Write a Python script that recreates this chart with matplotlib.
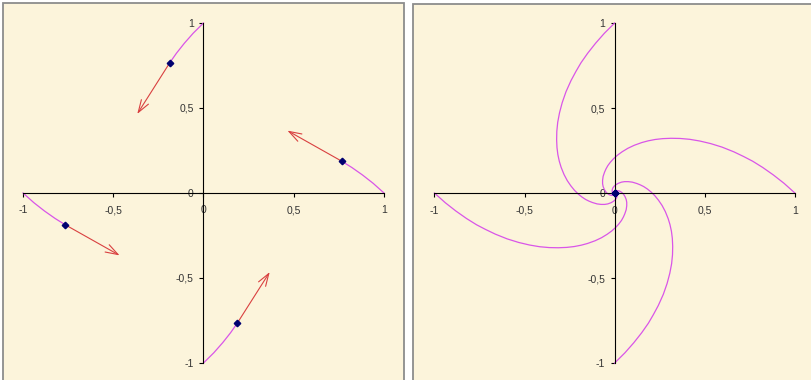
import matplotlib
matplotlib.use('Agg')
import matplotlib.pyplot as plt
from matplotlib.patches import Rectangle

plt.rcParams['font.family'] = ['Liberation Sans', 'DejaVu Sans']

# four chasers, each path
x_a = [1.0, 0.940, 0.881, 0.822, 0.766, 0.717, 0.662, 0.596, 0.532, 0.472, 0.416, 0.363,
       0.313, 0.267, 0.225, 0.186, 0.151, 0.109, 0.073, 0.042, 0.016, -0.006, -0.024, -0.038,
       -0.048, -0.056, -0.064, -0.067, -0.067, -0.064, -0.057, -0.049, -0.041, -0.030, -0.021,
       -0.012, -0.006, 0.000, 0.003, 0.0]
y_a = [0.0, 0.057, 0.106, 0.150, 0.187, 0.214, 0.242, 0.270, 0.291, 0.306, 0.316, 0.321,
       0.322, 0.320, 0.315, 0.307, 0.297, 0.281, 0.263, 0.243, 0.223, 0.202, 0.181, 0.161,
       0.142, 0.123, 0.098, 0.075, 0.055, 0.038, 0.020, 0.007, -0.002, -0.010, -0.013,
       -0.014, -0.013, -0.009, -0.005, 0.0]

x_b = [0.0, -0.057, -0.106, -0.150, -0.187, -0.214, -0.242, -0.270, -0.291, -0.306, -0.316, -0.321,
       -0.322, -0.320, -0.315, -0.307, -0.297, -0.281, -0.263, -0.243, -0.223, -0.202, -0.181, -0.161,
       -0.142, -0.123, -0.098, -0.075, -0.055, -0.038, -0.020, -0.007, 0.002, 0.010, 0.013,
       0.014, 0.013, 0.009, 0.005, 0.0]
y_b = [1.0, 0.940, 0.881, 0.822, 0.766, 0.717, 0.662, 0.596, 0.532, 0.472, 0.416, 0.363,
       0.313, 0.267, 0.225, 0.186, 0.151, 0.109, 0.073, 0.042, 0.016, -0.006, -0.024, -0.038,
       -0.048, -0.056, -0.064, -0.067, -0.067, -0.064, -0.057, -0.049, -0.041, -0.030, -0.021,
       -0.012, -0.006, 0.000, 0.003, 0.0]

x_c = [-1.0, -0.940, -0.881, -0.822, -0.766, -0.717, -0.662, -0.596, -0.532, -0.472, -0.416, -0.363,
       -0.313, -0.267, -0.225, -0.186, -0.151, -0.109, -0.073, -0.042, -0.016, 0.006, 0.024, 0.038,
       0.048, 0.056, 0.064, 0.067, 0.067, 0.064, 0.057, 0.049, 0.041, 0.030, 0.021,
       0.012, 0.006, 0.000, -0.003, 0.0]
y_c = [0.0, -0.057, -0.106, -0.150, -0.187, -0.214, -0.242, -0.270, -0.291, -0.306, -0.316, -0.321,
       -0.322, -0.320, -0.315, -0.307, -0.297, -0.281, -0.263, -0.243, -0.223, -0.202, -0.181, -0.161,
       -0.142, -0.123, -0.098, -0.075, -0.055, -0.038, -0.020, -0.007, 0.002, 0.010, 0.013,
       0.014, 0.013, 0.009, 0.005, 0.0]

x_d = [0.0, 0.057, 0.106, 0.150, 0.187, 0.214, 0.242, 0.270, 0.291, 0.306, 0.316, 0.321,
       0.322, 0.320, 0.315, 0.307, 0.297, 0.281, 0.263, 0.243, 0.223, 0.202, 0.181, 0.161,
       0.142, 0.123, 0.098, 0.075, 0.055, 0.038, 0.020, 0.007, -0.002, -0.010, -0.013,
       -0.014, -0.013, -0.009, -0.005, 0.0]
y_d = [-1.0, -0.940, -0.881, -0.822, -0.766, -0.717, -0.662, -0.596, -0.532, -0.472, -0.416, -0.363,
       -0.313, -0.267, -0.225, -0.186, -0.151, -0.109, -0.073, -0.042, -0.016, 0.006, 0.024, 0.038,
       0.048, 0.056, 0.064, 0.067, 0.067, 0.064, 0.057, 0.049, 0.041, 0.030, 0.021,
       0.012, 0.006, 0.000, -0.003, 0.0]

# left chart: paths up to this step, plus the heading arrows
step = 4
tip_x = [0.465, -0.367, -0.465, 0.367]
tip_y = [0.367, 0.465, -0.367, -0.465]

ticks = [-1, -0.5, 0, 0.5, 1]
tick_labels = ['-1', '-0,5', '0', '0,5', '1']

paths = [(x_a, y_a), (x_b, y_b), (x_c, y_c), (x_d, y_d)]

W, H = 812, 380
cream = '#fcf4db'
pink = '#d955e8'
red = '#d94040'
navy = '#000070'

fig = plt.figure(figsize=(W / 100, H / 100), dpi=100)
fig.patch.set_facecolor('white')


def px_box(x0, y0, x1, y1):
    return [x0 / W, 1 - y1 / H, (x1 - x0) / W, (y1 - y0) / H]


def frame(x0, y0, x1):
    fig.patches.append(Rectangle((x0 / W, -0.2), (x1 - x0) / W, 1.2 - y0 / H,
                                 transform=fig.transFigure, facecolor=cream,
                                 edgecolor='#8c8c8c', linewidth=1.3, zorder=-5))


def setup(ax, xlim, ylim):
    ax.set_facecolor('none')
    ax.set_xlim(*xlim)
    ax.set_ylim(*ylim)
    ax.spines['top'].set_visible(False)
    ax.spines['right'].set_visible(False)
    for s in ['left', 'bottom']:
        ax.spines[s].set_position(('data', 0))
        ax.spines[s].set_bounds(-1, 1)
        ax.spines[s].set_linewidth(0.8)
    ax.set_xticks(ticks, tick_labels)
    ax.set_yticks(ticks, tick_labels)
    ax.tick_params(direction='out', length=3, width=0.8, labelsize=7.5,
                   labelcolor='#333333')
    ax.tick_params(axis='x', pad=6)
    ax.tick_params(axis='y', pad=4)


# left chart
frame(3, 3, 404)
ax1 = fig.add_axes(px_box(3, 3, 404, 380))
setup(ax1, (-1.111, 1.111), (-1.1, 1.1176))
for (px, py), tx, ty in zip(paths, tip_x, tip_y):
    ax1.plot(px[:step + 1], py[:step + 1], color=pink, lw=0.9)
    ax1.annotate('', xy=(tx, ty), xytext=(px[step], py[step]),
                 arrowprops=dict(arrowstyle='->,head_length=0.6,head_width=0.2',
                                 color=red, lw=0.8, shrinkA=0, shrinkB=0,
                                 mutation_scale=15))
    ax1.plot(px[step], py[step], marker='D', ms=3.3, color=navy, zorder=5)

# right chart
frame(413, 4, 830)
ax2 = fig.add_axes(px_box(413, 4, 812, 380))
setup(ax2, (-1.119, 1.095), (-1.1, 1.112))
for px, py in paths:
    ax2.plot(px, py, color=pink, lw=0.9)
    ax2.plot(px[-1], py[-1], marker='D', ms=3.3, color=navy, zorder=5)

fig.savefig('out.png', dpi=100)
